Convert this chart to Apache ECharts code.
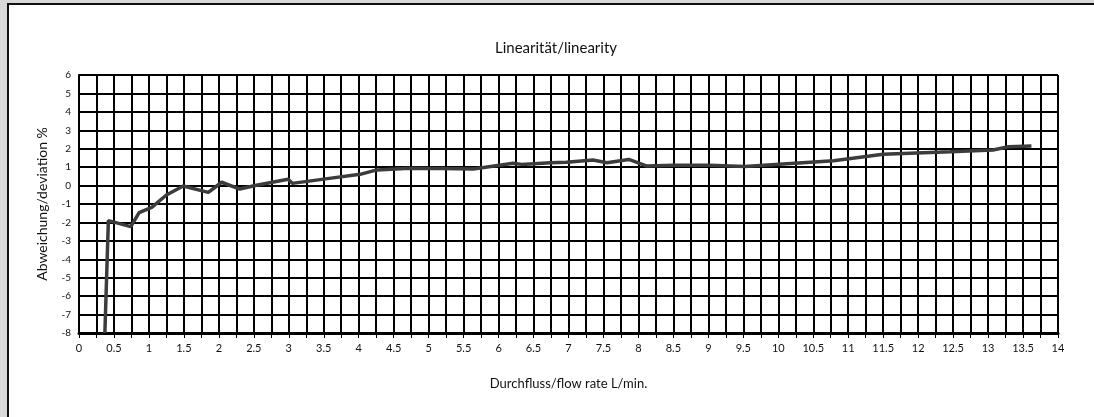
<!DOCTYPE html>
<html>
<head>
<meta charset="utf-8">
<script src="https://cdn.jsdelivr.net/npm/echarts@6/dist/echarts.min.js"></script>
<style>
  html, body { margin: 0; padding: 0; background: #d9d9d9; overflow: hidden; }
  #frame { position: absolute; left: 7px; top: 3px; width: 1200px; height: 600px; background: #fff; border: 2px solid #111; box-sizing: border-box; }
  #chart { position: absolute; left: 0; top: 0; width: 1094px; height: 417px; }
</style>
</head>
<body>
<div id="frame"></div>
<div id="chart"></div>
<script>
const flowRate = [0.37, 0.42, 0.74, 0.86, 1.04, 1.25, 1.49, 1.85, 2.04, 2.3, 2.52, 2.99, 3.05, 3.5, 4.02, 4.26, 4.73, 5.2, 5.64, 6.21, 6.33, 6.74, 6.97, 7.35, 7.55, 7.86, 7.95, 8.12, 8.5, 9.02, 9.52, 10.07, 10.79, 11.5, 12.46, 13.07, 13.29, 13.62];
const deviation = [-8, -1.9, -2.23, -1.47, -1.18, -0.51, -0.02, -0.37, 0.18, -0.19, 0, 0.34, 0.12, 0.35, 0.61, 0.85, 0.94, 0.93, 0.9, 1.21, 1.15, 1.24, 1.26, 1.39, 1.24, 1.42, 1.3, 1.06, 1.1, 1.1, 1.03, 1.17, 1.35, 1.7, 1.84, 1.93, 2.11, 2.15];

const font = "Lato, 'DejaVu Sans', sans-serif";

echarts.init(document.querySelector("#chart")).setOption({
    animation: false,
    title: {
        text: "Linearität/linearity",
        left: 551,
        top: 36,
        textAlign: "center",
        textStyle: { fontFamily: font, fontSize: 15, fontWeight: "normal", color: "#111" },
    },
    grid: { left: 79, right: 36, top: 75, bottom: 84 },
    xAxis: {
        type: "value",
        min: 0,
        max: 14,
        interval: 0.25,
        name: "Durchfluss/flow rate L/min.",
        nameLocation: "middle",
        nameGap: 44,
        nameTextStyle: { fontFamily: font, fontSize: 13, color: "#111" },
        axisLine: { onZero: false, lineStyle: { color: "#000", width: 3 } },
        axisTick: { show: true, length: 5, lineStyle: { color: "#000", width: 1 } },
        axisLabel: {
            fontFamily: font,
            fontSize: 11,
            color: "#111",
            margin: 10,
            formatter: (v) => (Math.round(v * 4) % 2 === 0 ? String(v) : ""),
        },
        splitLine: { show: true, lineStyle: { color: "#000", width: 2 } },
    },
    yAxis: {
        type: "value",
        min: -8,
        max: 6,
        interval: 1,
        name: "Abweichung/deviation %",
        nameLocation: "middle",
        nameGap: 30,
        nameTextStyle: { fontFamily: font, fontSize: 14, color: "#111" },
        axisLine: { show: true, lineStyle: { color: "#000", width: 2 } },
        axisTick: { show: false },
        axisLabel: { fontFamily: font, fontSize: 10, color: "#111", margin: 8 },
        splitLine: { show: true, lineStyle: { color: "#000", width: 2 } },
    },
    series: [
        {
            type: "line",
            data: flowRate.map((x, i) => [x, deviation[i]]),
            showSymbol: false,
            lineStyle: { color: "#3c3c3c", width: 3.5 },
        },
    ],
});
</script>
</body>
</html>
